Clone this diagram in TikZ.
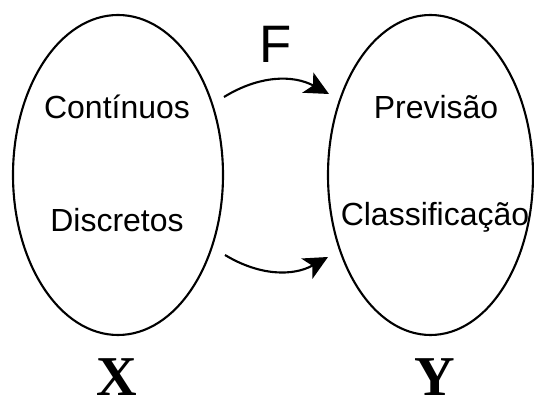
\documentclass[tikz,border=0pt]{standalone}
\usepackage{fontspec}
\setmainfont{Liberation Sans}
\newfontfamily\timesfont{Liberation Serif}
\usetikzlibrary{shapes.geometric,arrows.meta}

\begin{document}
\begin{tikzpicture}[
  setbox/.style={draw,line width=1.2pt,ellipse,minimum width=4.2cm,minimum height=6.4cm,inner sep=0pt},
  itemtext/.style={font=\fontsize{18.2}{22}\selectfont},
  setname/.style={font=\timesfont\bfseries\fontsize{32}{38}\selectfont,inner sep=0pt},
  maparrow/.style={line width=1.2pt,-{Stealth[length=4.8mm,width=4.6mm,inset=1.2mm]}}]
\useasboundingbox (0,0) rectangle (10.68,8.2);
\node[setbox] (setX) at (2.36,4.70) {};
\node[setbox,minimum width=4.1cm] (setY) at (8.61,4.70) {};
\node[itemtext] (cont) at (2.34,6.06) {Contínuos};
\node[itemtext] (disc) at (2.34,3.80) {Discretos};
\node[itemtext] (prev) at (8.72,6.06) {Previsão};
\node[itemtext] (clas) at (8.70,3.86) {Classificação};
\node[font=\fontsize{30}{36}\selectfont] (mapF) at (5.52,7.32) {F};
\node[setname] (nameX) at (2.34,0.66) {X};
\node[setname] (nameY) at (8.70,0.66) {Y};
% arrows between the two sets
\coordinate (topS) at (4.48,6.26); \coordinate (topE) at (6.58,6.32);
\coordinate (botS) at (4.50,3.10); \coordinate (botE) at (6.56,3.06);
\draw[maparrow] (topS) to[bend left=30] (topE);
\draw[maparrow] (botS) to[bend right=30] (botE);
\end{tikzpicture}
\end{document}
